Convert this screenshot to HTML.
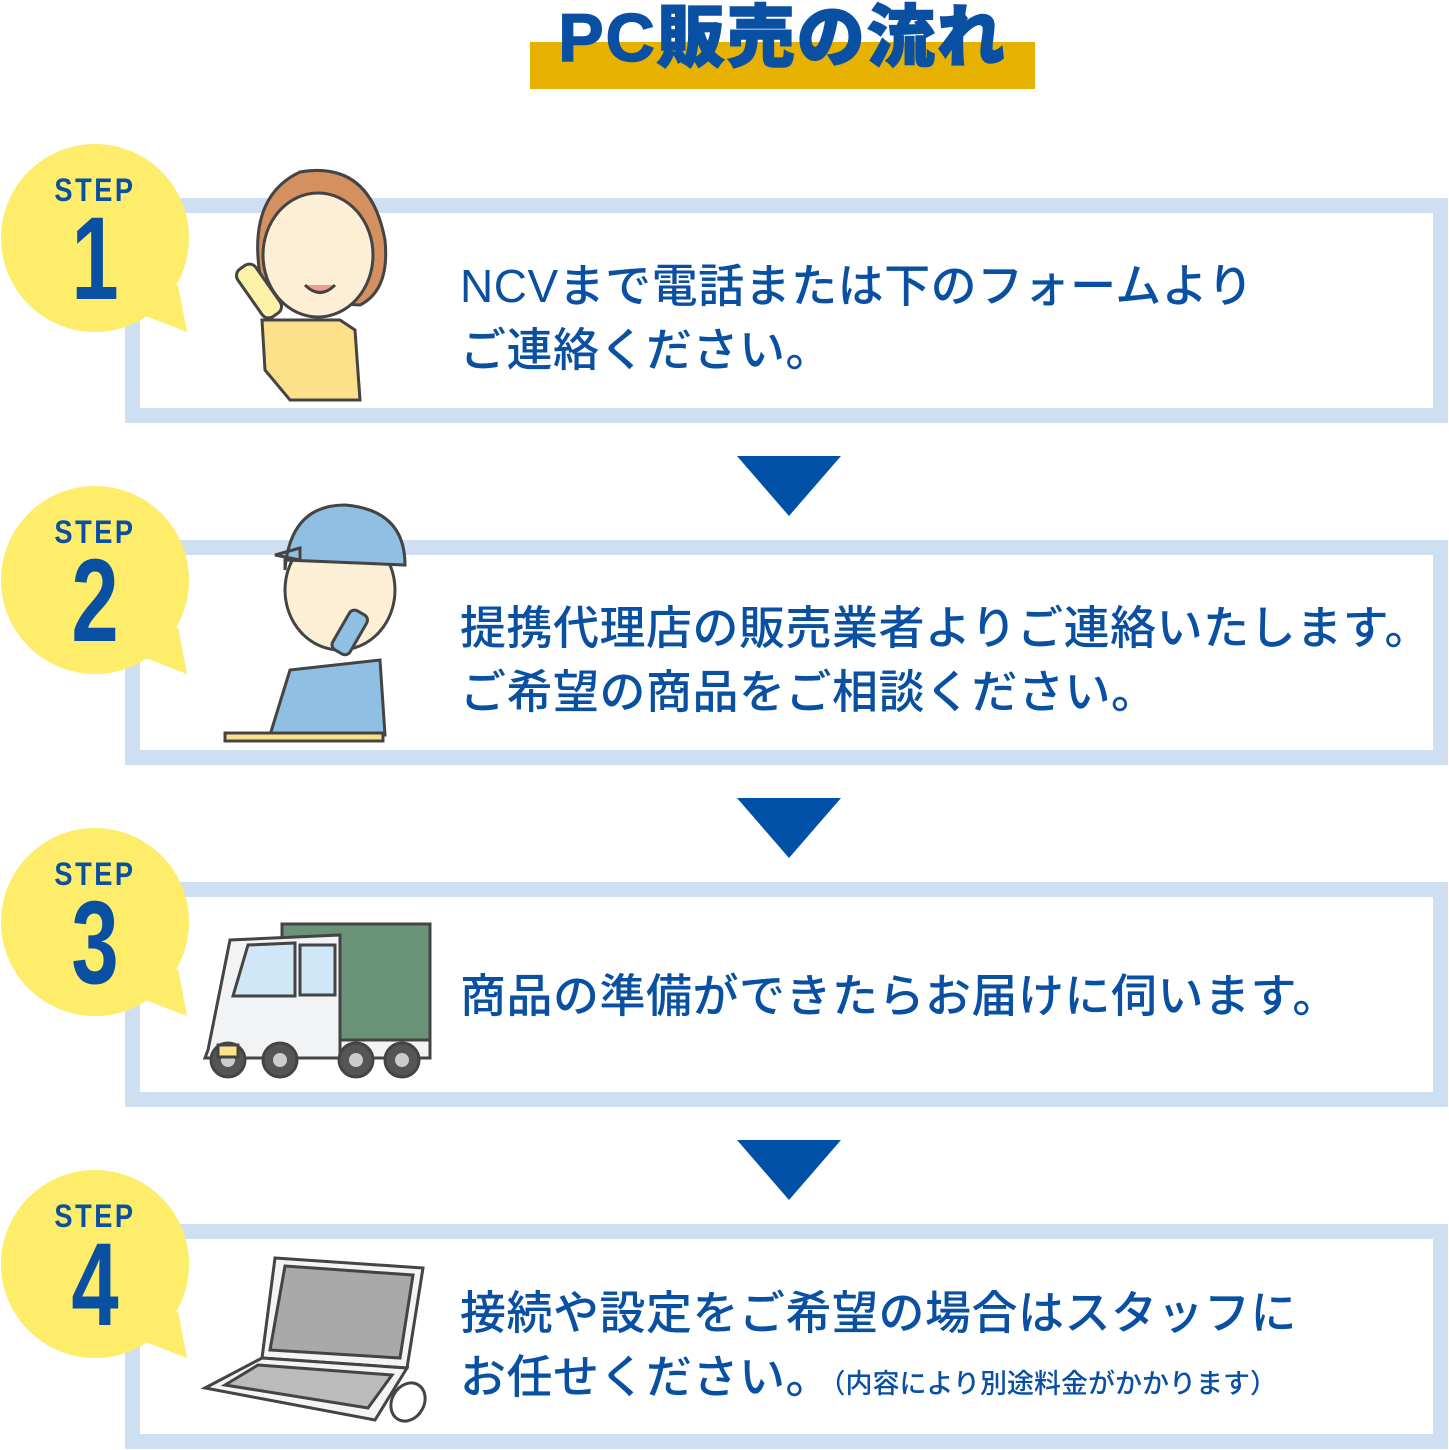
<!DOCTYPE html>
<html><head><meta charset="utf-8"><style>
body{margin:0;width:1449px;height:1450px;background:#fff;position:relative;overflow:hidden;font-family:"Liberation Sans","Noto Sans CJK JP",sans-serif}
.abs{position:absolute}
.box{position:absolute;left:125px;width:1293px;height:195px;border:15px solid #cddff0;background:#fff}
.txt{position:absolute;left:460px;color:#0a50a2;font-size:46px;line-height:64px;font-weight:500;white-space:nowrap;letter-spacing:0.5px}
.step{position:absolute;left:0;width:190px;text-align:center;color:#0a50a2;font-weight:bold;font-size:32px;letter-spacing:3px;font-family:"Liberation Sans Narrow","Liberation Sans",sans-serif;transform:scaleX(.85)}
.num{position:absolute;left:0;width:190px;text-align:center;color:#0a50a2;font-weight:bold;font-size:118px;line-height:118px;font-family:"Liberation Sans Narrow","Liberation Sans",sans-serif;transform:scaleX(.72)}
.tri{position:absolute;left:737px;width:0;height:0;border-left:52px solid transparent;border-right:52px solid transparent;border-top:60px solid #0050a8}
</style></head><body>
<div class="abs" style="left:530px;top:42px;width:505px;height:47px;background:#e6b100"></div>
<div class="abs" style="left:530px;top:-18px;width:505px;text-align:center;font-size:68px;font-weight:900;color:#0a50a2;letter-spacing:2px;-webkit-text-stroke:1.5px #0a50a2">PC販売の流れ</div>

<div class="box" style="top:198px"></div>
<div class="box" style="top:540px"></div>
<div class="box" style="top:882px"></div>
<div class="box" style="top:1224px"></div>

<div class="tri" style="top:456px"></div>
<div class="tri" style="top:798px"></div>
<div class="tri" style="top:1140px"></div>

<svg class="abs" style="left:0;top:0" width="200" height="1450">
<g fill="#feec6b">
<circle cx="95" cy="238" r="94"/><path d="M130 310 L187 332 L178 285 Z"/>
<circle cx="95" cy="580" r="94"/><path d="M130 652 L187 674 L178 627 Z"/>
<circle cx="95" cy="922" r="94"/><path d="M130 994 L187 1016 L178 969 Z"/>
<circle cx="95" cy="1264" r="94"/><path d="M130 1336 L187 1358 L178 1311 Z"/>
</g></svg>
<div class="step" style="top:172px">STEP</div><div class="num" style="top:200px">1</div>
<div class="step" style="top:514px">STEP</div><div class="num" style="top:542px">2</div>
<div class="step" style="top:856px">STEP</div><div class="num" style="top:884px">3</div>
<div class="step" style="top:1198px">STEP</div><div class="num" style="top:1226px">4</div>

<svg class="abs" style="left:0;top:0" width="460" height="1450" stroke="#444" stroke-width="3">
<path d="M265 300 Q240 200 300 172 Q370 160 385 240 Q390 290 360 305 Z" fill="#d4905e"/>
<ellipse cx="318" cy="255" rx="55" ry="62" fill="#fdeed6"/>
<path d="M262 320 L300 320 L340 320 L355 330 L360 400 L290 400 L265 370Z" fill="#fde08a"/>
<rect x="248" y="262" width="22" height="58" rx="8" fill="#fcf3a8" transform="rotate(-35 259 291)"/>
<path d="M305 285 Q320 300 335 285" fill="#f29b95"/>
<ellipse cx="340" cy="590" rx="55" ry="60" fill="#fdeed6"/>
<path d="M285 570 Q290 505 345 505 Q405 510 405 565 L285 560 Z M275 555 L300 548 L300 560Z" fill="#8fc0e3"/>
<path d="M270 735 L290 670 L380 660 L385 735Z" fill="#8fc0e3"/>
<rect x="225" y="733" width="158" height="8" fill="#fde08a"/>
<rect x="340" y="610" width="20" height="45" rx="6" fill="#8fc0e3" transform="rotate(30 350 632)"/>
<rect x="282" y="924" width="148" height="118" fill="#6b9378"/>
<path d="M208 1050 L230 940 L340 935 L340 1058 L205 1058Z" fill="#f2f3f5"/>
<path d="M233 996 L248 945 L295 943 L295 996Z" fill="#cfe7f6"/>
<rect x="300" y="945" width="35" height="50" fill="#cfe7f6"/>
<rect x="340" y="1040" width="90" height="18" fill="#f2f3f5"/>
<g fill="#555"><circle cx="228" cy="1060" r="17"/><circle cx="280" cy="1060" r="17"/><circle cx="356" cy="1060" r="17"/><circle cx="402" cy="1060" r="17"/></g>
<g fill="#ccc" stroke="none"><circle cx="228" cy="1060" r="7"/><circle cx="280" cy="1060" r="7"/><circle cx="356" cy="1060" r="7"/><circle cx="402" cy="1060" r="7"/></g>
<rect x="218" y="1045" width="20" height="12" fill="#fde08a"/>
<path d="M275 1258 L423 1268 L407 1368 L262 1358Z" fill="#f4f4f4"/>
<path d="M285 1266 L413 1275 L400 1358 L270 1350Z" fill="#a9a9a9"/>
<path d="M262 1358 L407 1368 L375 1420 L205 1388Z" fill="#f4f4f4"/>
<path d="M258 1365 L392 1375 L368 1408 L225 1385Z" fill="#bbb"/>
<ellipse cx="408" cy="1402" rx="16" ry="20" fill="#fff" transform="rotate(30 408 1402)"/>
</svg>

<div class="txt" style="top:254px">NCVまで電話または下のフォームより<br>ご連絡ください。</div>
<div class="txt" style="top:596px">提携代理店の販売業者よりご連絡いたします。<br>ご希望の商品をご相談ください。</div>
<div class="txt" style="top:964px">商品の準備ができたらお届けに伺います。</div>
<div class="txt" style="top:1281px">接続や設定をご希望の場合はスタッフに<br>お任せください。<span style="font-size:27px;letter-spacing:0">（内容により別途料金がかかります）</span></div>
</body></html>
